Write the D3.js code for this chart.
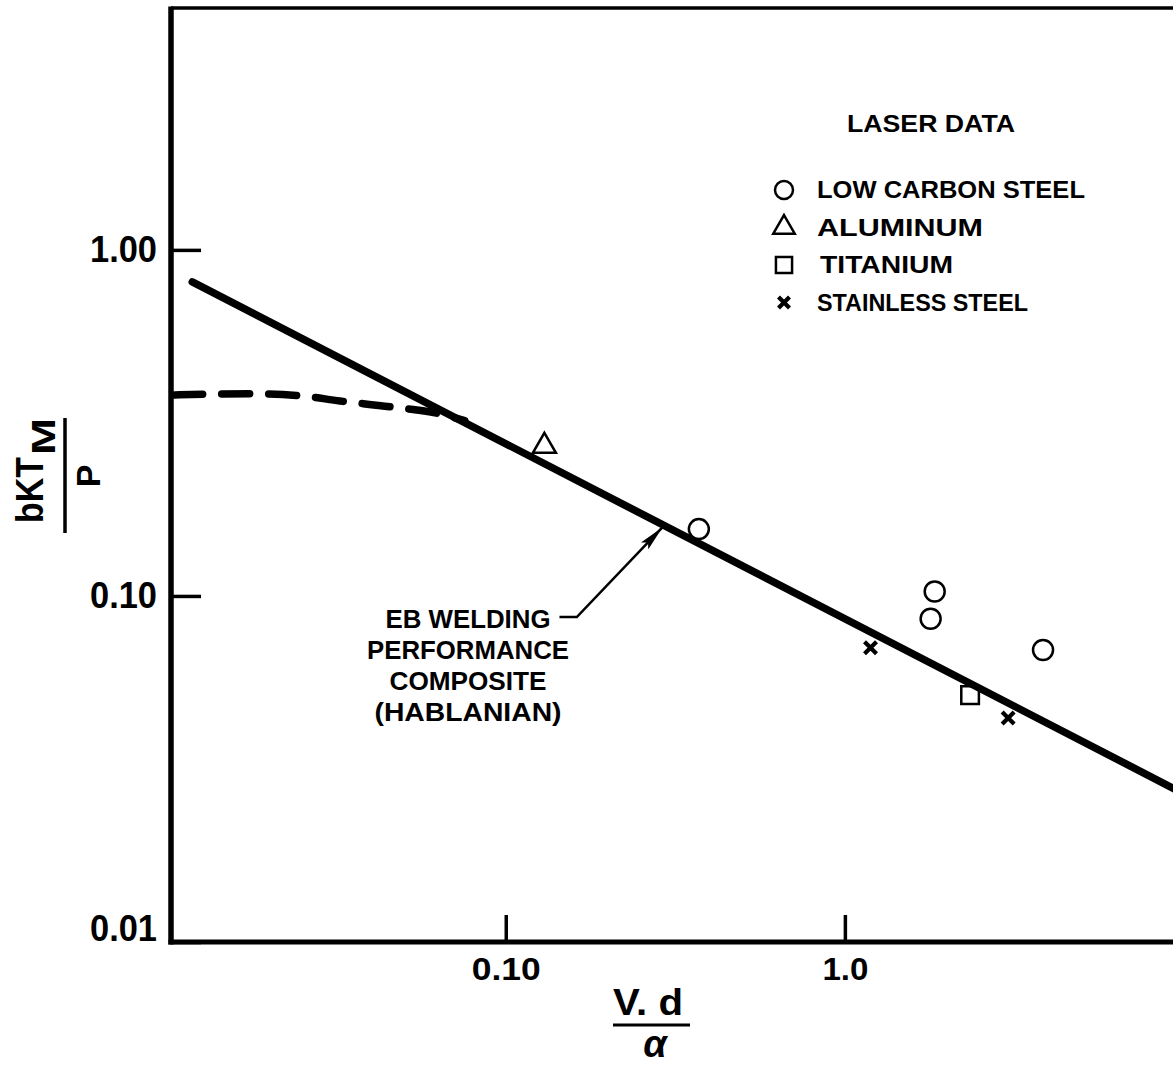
<!DOCTYPE html>
<html>
<head>
<meta charset="utf-8">
<script src="https://cdn.jsdelivr.net/npm/d3@7"></script>
<style>
body { margin: 0; background: #fff; }
svg text { font-family: "Liberation Sans", Arial, sans-serif; font-weight: bold; fill: #000; }
</style>
</head>
<body>
<div id="chart"></div>
<script>
// tick values and labels
var xTicks = [0.1, 1.0];
var xTickLabels = ['0.10', '1.0'];
var yTicks = [0.01, 0.1, 1.0];
var yTickLabels = ['0.01', '0.10', '1.00'];

// laser data (V.d/alpha, bKTm/P)
var lowCarbonX = [0.371, 1.84, 1.79, 3.84];
var lowCarbonY = [0.156, 0.103, 0.0859, 0.0698];
var aluminumX = [0.130];
var aluminumY = [0.271];
var titaniumX = [2.34];
var titaniumY = [0.0517];
var stainlessX = [1.19, 3.03];
var stainlessY = [0.0708, 0.0444];

// EB welding composite (Hablanian): straight line plus dashed low end
var ebLineX = [0.0119, 10];
var ebLineY = [0.808, 0.0268];
var ebDashX = [0.01056, 0.01758, 0.0247, 0.0324, 0.0455, 0.0638, 0.0757];
var ebDashY = [0.381, 0.384, 0.379, 0.366, 0.352, 0.336, 0.321];

// arrow from the note to the line
var arrowX = [0.144, 0.162, 0.290];
var arrowY = [0.0869, 0.0869, 0.158];

var legendNames = ['LOW CARBON STEEL', 'ALUMINUM', 'TITANIUM', 'STAINLESS STEEL'];
var legendWidths = [268, 166, 133, 211];
var noteLines = ['EB WELDING', 'PERFORMANCE', 'COMPOSITE', '(HABLANIAN)'];
var noteWidths = [165, 202, 157, 187];

var width = 1173, height = 1065;
var xMin = 0.0103, xMax = 10, yMin = 0.01, yMax = 5;

var x = d3.scaleLog().domain([xMin, xMax]).range([171, 1184]);
var y = d3.scaleLog().domain([yMin, yMax]).range([942, 8]);

var svg = d3.select('#chart').append('svg')
    .attr('width', width)
    .attr('height', height)
    .style('display', 'block');

function zip(xs, ys) {
    return xs.map(function(v, i) { return [v, ys[i]]; });
}

var line = d3.line()
    .x(function(d) { return x(d[0]); })
    .y(function(d) { return y(d[1]); });

// frame: top, left and bottom
svg.append('line')
    .attr('x1', x(xMin)).attr('x2', x(xMax))
    .attr('y1', y(yMax)).attr('y2', y(yMax))
    .style('stroke', '#000').style('stroke-width', 3.5);
svg.append('line')
    .attr('x1', x(xMin)).attr('x2', x(xMin))
    .attr('y1', y(yMax) - 1.5).attr('y2', y(yMin) + 2.5)
    .style('stroke', '#000').style('stroke-width', 5.5);
svg.append('line')
    .attr('x1', x(xMin) - 2.5).attr('x2', x(xMax))
    .attr('y1', y(yMin)).attr('y2', y(yMin))
    .style('stroke', '#000').style('stroke-width', 5);

// y axis ticks (inward) and labels
var yAxis = svg.append('g')
    .attr('transform', 'translate(' + x(xMin) + ',0)')
    .call(d3.axisLeft(y).tickValues(yTicks).tickSizeInner(-30).tickSizeOuter(0).tickPadding(14)
        .tickFormat(function(d, i) { return yTickLabels[i]; }));
yAxis.select('.domain').remove();
yAxis.selectAll('line').style('stroke', '#000').style('stroke-width', 3.5);
yAxis.selectAll('text')
    .attr('font-size', 36)
    .attr('font-family', null)
    .attr('textLength', 67)
    .attr('lengthAdjust', 'spacingAndGlyphs')
    .attr('dy', function(d) { return d === yMin ? '-0.05em' : '0.33em'; });

// x axis ticks (inward) and labels
var xAxis = svg.append('g')
    .attr('transform', 'translate(0,' + y(yMin) + ')')
    .call(d3.axisBottom(x).tickValues(xTicks).tickSizeInner(-27).tickSizeOuter(0).tickPadding(15)
        .tickFormat(function(d, i) { return xTickLabels[i]; }));
xAxis.select('.domain').remove();
xAxis.selectAll('line').style('stroke', '#000').style('stroke-width', 3.5);
xAxis.selectAll('text')
    .attr('font-size', 32)
    .attr('font-family', null)
    .attr('textLength', function(d) { return d === 0.1 ? 69 : 46; })
    .attr('lengthAdjust', 'spacingAndGlyphs');

// x axis title: V. d over alpha
var xTitle = svg.append('g');
xTitle.append('text')
    .attr('x', 648).attr('y', 1015)
    .attr('text-anchor', 'middle')
    .attr('font-size', 36)
    .attr('textLength', 70)
    .attr('lengthAdjust', 'spacingAndGlyphs')
    .text('V. d');
xTitle.append('line')
    .attr('x1', 613).attr('x2', 690)
    .attr('y1', 1025).attr('y2', 1025)
    .style('stroke', '#000').style('stroke-width', 3);
xTitle.append('text')
    .attr('x', 655).attr('y', 1057)
    .attr('text-anchor', 'middle')
    .attr('font-size', 38)
    .style('font-style', 'italic')
    .text('α');

// y axis title: bKT_M over P, rotated
var yTitle = svg.append('g').attr('transform', 'rotate(-90)');
yTitle.append('text')
    .attr('x', -523).attr('y', 43)
    .attr('font-size', 38)
    .attr('textLength', 66)
    .attr('lengthAdjust', 'spacingAndGlyphs')
    .text('bKT');
yTitle.append('text')
    .attr('x', -455).attr('y', 55)
    .attr('font-size', 34)
    .attr('textLength', 37)
    .attr('lengthAdjust', 'spacingAndGlyphs')
    .text('M');
yTitle.append('line')
    .attr('x1', -533).attr('x2', -418)
    .attr('y1', 65).attr('y2', 65)
    .style('stroke', '#000').style('stroke-width', 3.5);
yTitle.append('text')
    .attr('x', -476).attr('y', 100)
    .attr('text-anchor', 'middle')
    .attr('font-size', 34)
    .text('P');

// EB welding line and dashed curve
svg.append('path')
    .datum(zip(ebLineX, ebLineY))
    .attr('d', line)
    .style('fill', 'none')
    .style('stroke', '#000')
    .style('stroke-width', 7.5)
    .style('stroke-linecap', 'round');

svg.append('path')
    .datum(zip(ebDashX, ebDashY))
    .attr('d', line.curve(d3.curveMonotoneX))
    .style('fill', 'none')
    .style('stroke', '#000')
    .style('stroke-width', 7.5)
    .style('stroke-dasharray', '28,19')
    .style('stroke-linecap', 'round');
line.curve(d3.curveLinear);

// arrow
svg.append('defs').append('marker')
    .attr('id', 'head')
    .attr('viewBox', '0 0 26 10')
    .attr('refX', 26).attr('refY', 5)
    .attr('markerWidth', 26).attr('markerHeight', 10)
    .attr('markerUnits', 'userSpaceOnUse')
    .attr('orient', 'auto')
    .append('path')
    .attr('d', 'M0,0 L26,5 L0,10 L5,5 Z')
    .style('fill', '#000');

svg.append('path')
    .datum(zip(arrowX, arrowY))
    .attr('d', line)
    .style('fill', 'none')
    .style('stroke', '#000')
    .style('stroke-width', 2.5)
    .attr('marker-end', 'url(#head)');

// note text
svg.append('g').selectAll('text')
    .data(noteLines)
    .enter()
    .append('text')
    .attr('x', 468)
    .attr('y', function(d, i) { return 628 + i * 31; })
    .attr('text-anchor', 'middle')
    .attr('font-size', 25)
    .attr('textLength', function(d, i) { return noteWidths[i]; })
    .attr('lengthAdjust', 'spacingAndGlyphs')
    .text(function(d) { return d; });

// markers
var markStroke = 2.5;

function drawCircles(g, pts, r) {
    g.selectAll(null).data(pts).enter().append('circle')
        .attr('cx', function(d) { return d[0]; })
        .attr('cy', function(d) { return d[1]; })
        .attr('r', r)
        .style('fill', 'none').style('stroke', '#000').style('stroke-width', markStroke);
}
function drawSymbols(g, pts, type, size) {
    g.selectAll(null).data(pts).enter().append('path')
        .attr('transform', function(d) { return 'translate(' + d[0] + ',' + d[1] + ')'; })
        .attr('d', d3.symbol().type(type).size(size))
        .style('fill', 'none').style('stroke', '#000').style('stroke-width', markStroke);
}
function drawCrosses(g, pts, h) {
    g.selectAll(null).data(pts).enter().append('path')
        .attr('transform', function(d) { return 'translate(' + d[0] + ',' + d[1] + ')'; })
        .attr('d', 'M' + (-h) + ',' + (-h) + 'L' + h + ',' + h + 'M' + h + ',' + (-h) + 'L' + (-h) + ',' + h)
        .style('fill', 'none').style('stroke', '#000').style('stroke-width', 4.2);
}
function toPx(xs, ys) {
    return xs.map(function(v, i) { return [x(v), y(ys[i])]; });
}

var marks = svg.append('g');
drawCircles(marks, toPx(lowCarbonX, lowCarbonY), 10);
drawSymbols(marks, toPx(aluminumX, aluminumY), d3.symbolTriangle, 230);
drawSymbols(marks, toPx(titaniumX, titaniumY), d3.symbolSquare, 310);
drawCrosses(marks, toPx(stainlessX, stainlessY), 6);

// legend
var legend = svg.append('g');
legend.append('text')
    .attr('x', 931).attr('y', 132)
    .attr('text-anchor', 'middle')
    .attr('font-size', 24)
    .attr('textLength', 168)
    .attr('lengthAdjust', 'spacingAndGlyphs')
    .text('LASER DATA');

var legendX = 784, legendTextX = 817;
function rowY(i) { return 190 + i * 37.5; }

drawCircles(legend, [[legendX, rowY(0)]], 9);
drawSymbols(legend, [[legendX, rowY(1)]], d3.symbolTriangle, 200);
drawSymbols(legend, [[legendX, rowY(2)]], d3.symbolSquare, 260);
drawCrosses(legend, [[legendX, rowY(3)]], 5.5);

legend.selectAll('.lt')
    .data(legendNames)
    .enter()
    .append('text')
    .attr('class', 'lt')
    .attr('x', function(d, i) { return i === 2 ? legendTextX + 3 : legendTextX; })
    .attr('y', function(d, i) { return rowY(i) + 8; })
    .attr('font-size', 23)
    .attr('textLength', function(d, i) { return legendWidths[i]; })
    .attr('lengthAdjust', 'spacingAndGlyphs')
    .text(function(d) { return d; });
</script>
</body>
</html>
